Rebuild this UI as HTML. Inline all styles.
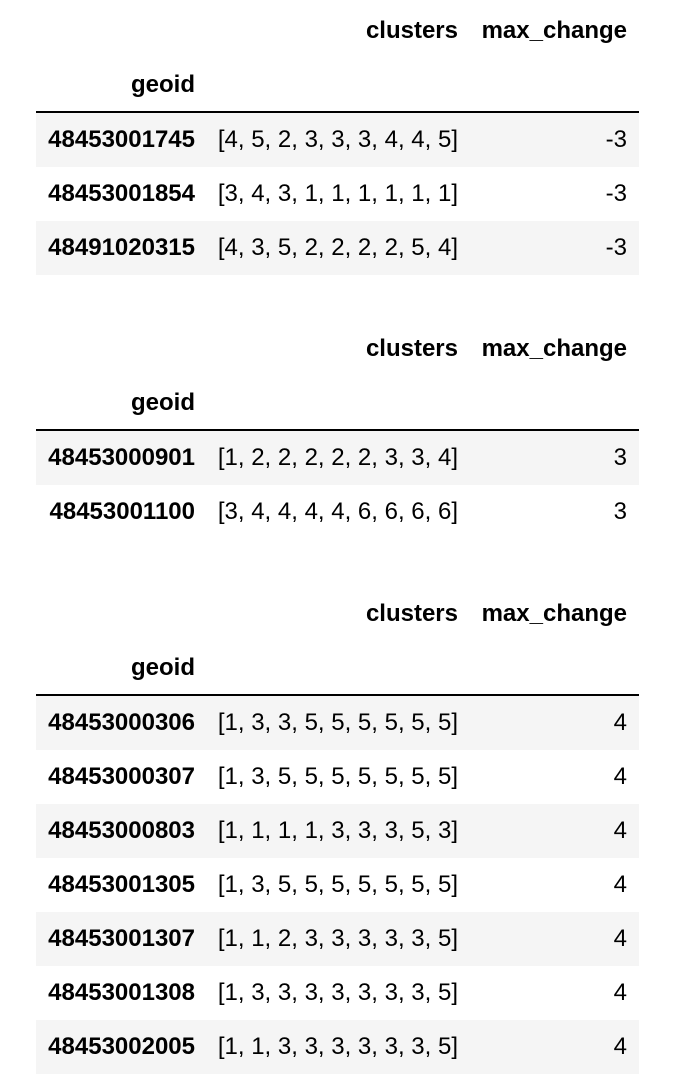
<!DOCTYPE html>
<html><head><style>
body{margin:0;width:676px;height:1092px;background:#fff;position:relative;font-family:"Liberation Sans",Arial,sans-serif;font-size:24px;color:#000;overflow:hidden}
.r{position:absolute;left:36px;width:603px;height:54px}
.g{background:#f5f5f5}
.c{position:absolute;top:0;line-height:54px;text-align:right;white-space:nowrap}
.a{right:444px;font-weight:bold}
.b{right:181px}
.d{right:12px}
.h{font-weight:bold}
.line{position:absolute;left:36px;width:603px;height:2px;background:#000}
</style></head><body>

<div class="r" style="top:4px"><div class="c b h">clusters</div><div class="c d h">max_change</div></div>
<div class="r" style="top:58px"><div class="c a">geoid</div></div>
<div class="line" style="top:111px"></div>
<div class="r g" style="top:113px"><div class="c a">48453001745</div><div class="c b">[4, 5, 2, 3, 3, 3, 4, 4, 5]</div><div class="c d">-3</div></div>
<div class="r" style="top:167px"><div class="c a">48453001854</div><div class="c b">[3, 4, 3, 1, 1, 1, 1, 1, 1]</div><div class="c d">-3</div></div>
<div class="r g" style="top:221px"><div class="c a">48491020315</div><div class="c b">[4, 3, 5, 2, 2, 2, 2, 5, 4]</div><div class="c d">-3</div></div>

<div class="r" style="top:322px"><div class="c b h">clusters</div><div class="c d h">max_change</div></div>
<div class="r" style="top:376px"><div class="c a">geoid</div></div>
<div class="line" style="top:429px"></div>
<div class="r g" style="top:431px"><div class="c a">48453000901</div><div class="c b">[1, 2, 2, 2, 2, 2, 3, 3, 4]</div><div class="c d">3</div></div>
<div class="r" style="top:485px"><div class="c a">48453001100</div><div class="c b">[3, 4, 4, 4, 4, 6, 6, 6, 6]</div><div class="c d">3</div></div>

<div class="r" style="top:587px"><div class="c b h">clusters</div><div class="c d h">max_change</div></div>
<div class="r" style="top:641px"><div class="c a">geoid</div></div>
<div class="line" style="top:694px"></div>
<div class="r g" style="top:696px"><div class="c a">48453000306</div><div class="c b">[1, 3, 3, 5, 5, 5, 5, 5, 5]</div><div class="c d">4</div></div>
<div class="r" style="top:750px"><div class="c a">48453000307</div><div class="c b">[1, 3, 5, 5, 5, 5, 5, 5, 5]</div><div class="c d">4</div></div>
<div class="r g" style="top:804px"><div class="c a">48453000803</div><div class="c b">[1, 1, 1, 1, 3, 3, 3, 5, 3]</div><div class="c d">4</div></div>
<div class="r" style="top:858px"><div class="c a">48453001305</div><div class="c b">[1, 3, 5, 5, 5, 5, 5, 5, 5]</div><div class="c d">4</div></div>
<div class="r g" style="top:912px"><div class="c a">48453001307</div><div class="c b">[1, 1, 2, 3, 3, 3, 3, 3, 5]</div><div class="c d">4</div></div>
<div class="r" style="top:966px"><div class="c a">48453001308</div><div class="c b">[1, 3, 3, 3, 3, 3, 3, 3, 5]</div><div class="c d">4</div></div>
<div class="r g" style="top:1020px"><div class="c a">48453002005</div><div class="c b">[1, 1, 3, 3, 3, 3, 3, 3, 5]</div><div class="c d">4</div></div>

</body></html>
